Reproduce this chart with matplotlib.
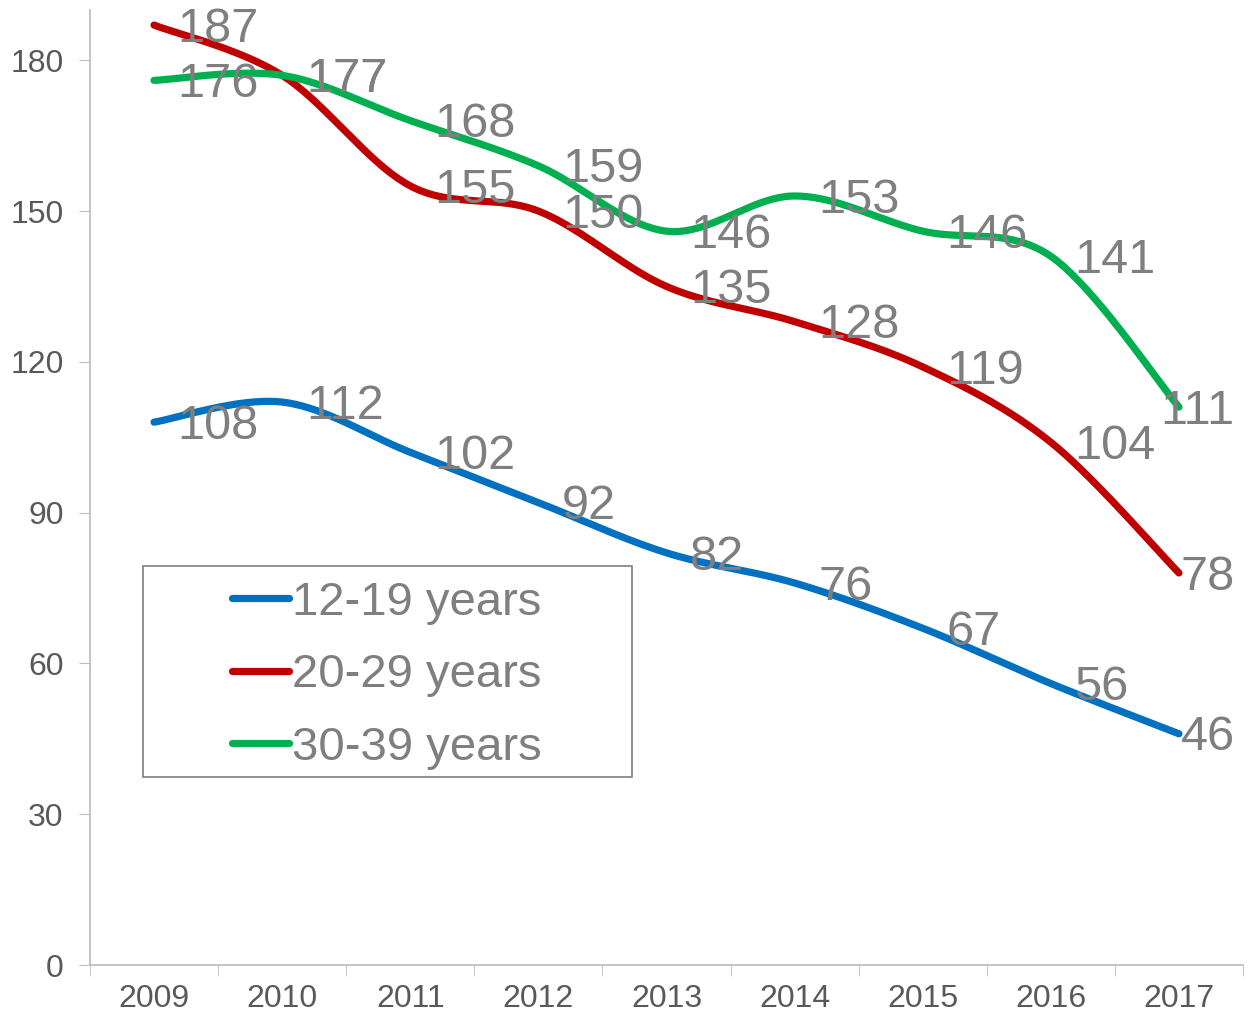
import numpy as np
import matplotlib
matplotlib.use("Agg")
import matplotlib.pyplot as plt
from matplotlib.patches import Rectangle

plt.rcParams['font.family'] = ['Liberation Sans', 'DejaVu Sans']

years = ['2009', '2010', '2011', '2012', '2013', '2014', '2015', '2016', '2017']
teens = [108, 112, 102, 92, 82, 76, 67, 56, 46]
twenties = [187, 177, 155, 150, 135, 128, 119, 104, 78]
thirties = [176, 177, 168, 159, 146, 153, 146, 141, 111]

series = [
    ('12-19 years', teens, '#0070C0'),
    ('20-29 years', twenties, '#C00000'),
    ('30-39 years', thirties, '#00B050'),
]


def smooth(x, y, n=40):
    # Catmull-Rom style bezier, similar to Excel's "smoothed line"
    x = np.asarray(x, float)
    y = np.asarray(y, float)
    px = np.concatenate([[x[0]], x, [x[-1]]])
    py = np.concatenate([[y[0]], y, [y[-1]]])
    xs, ys = [], []
    t = np.linspace(0, 1, n)
    for i in range(1, len(px) - 2):
        p0 = np.array([px[i], py[i]])
        p3 = np.array([px[i + 1], py[i + 1]])
        c1 = p0 + (np.array([px[i + 1], py[i + 1]]) - np.array([px[i - 1], py[i - 1]])) / 6
        c2 = p3 - (np.array([px[i + 2], py[i + 2]]) - np.array([px[i], py[i]])) / 6
        b = ((1 - t) ** 3)[:, None] * p0 + (3 * (1 - t) ** 2 * t)[:, None] * c1 \
            + (3 * (1 - t) * t ** 2)[:, None] * c2 + (t ** 3)[:, None] * p3
        xs.extend(b[:, 0])
        ys.extend(b[:, 1])
    return np.array(xs), np.array(ys)


fig = plt.figure(figsize=(12.56, 10.13), dpi=100)
ax = fig.add_axes([90 / 1256, 48 / 1013, (1243 - 90) / 1256, (965 - 10) / 1013])

xpos = np.arange(len(years))
handles = []
for name, vals, col in series:
    sx, sy = smooth(xpos, vals)
    h, = ax.plot(sx, sy, color=col, lw=5.2, solid_capstyle='round', label=name)
    handles.append(h)

last = len(years) - 1
for name, vals, col in series:
    for x, v in zip(xpos, vals):
        if x == last:
            # kept inside the plot area, as the reference does
            ax.annotate(str(v), (x, v), xytext=(40, -3), textcoords='offset points',
                        ha='right', va='center', fontsize=35, color='#7F7F7F', zorder=5)
        else:
            ax.annotate(str(v), (x, v), xytext=(17, -3), textcoords='offset points',
                        ha='left', va='center', fontsize=35, color='#7F7F7F', zorder=5)

ax.set_xlim(-0.5, len(years) - 0.5)
ax.set_ylim(0, 190)
ax.set_yticks(range(0, 181, 30))
ax.set_xticks(xpos)
ax.set_xticklabels(years)
ax.set_xticks(np.arange(-0.5, len(years), 1), minor=True)
ax.tick_params(axis='x', which='major', length=0, pad=14, labelsize=23, labelcolor='#595959')
ax.tick_params(axis='x', which='minor', length=8, color='#BFBFBF', direction='out')
ax.tick_params(axis='y', length=8, color='#BFBFBF', labelsize=23, labelcolor='#595959', pad=11)

for s in ['top', 'right']:
    ax.spines[s].set_visible(False)
for s in ['left', 'bottom']:
    ax.spines[s].set_color('#BFBFBF')
    ax.spines[s].set_linewidth(1.3)

# legend box drawn separately for its uneven padding
fig.patches.append(Rectangle((143 / 1256, 1 - 777 / 1013), (632 - 143) / 1256, (777 - 566) / 1013,
                             transform=fig.transFigure, fill=False, edgecolor='#7F7F7F', lw=1.2))
leg = fig.legend(handles=handles, loc='upper left', bbox_to_anchor=(232 / 1256, 1 - 581 / 1013),
                 frameon=False, fontsize=34, handlelength=1.2, handletextpad=0.08,
                 labelspacing=0.6, borderpad=0, borderaxespad=0)
for t in leg.get_texts():
    t.set_color('#7F7F7F')

fig.savefig('out.png', dpi=100)
